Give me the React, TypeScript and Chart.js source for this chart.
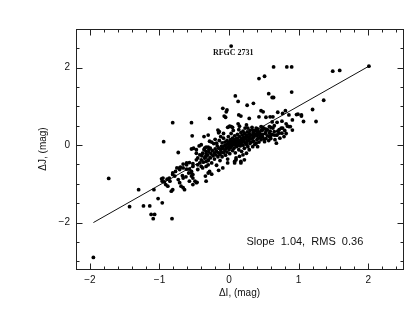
import React, { useEffect, useRef } from "react";
import { Chart, registerables } from "chart.js";

Chart.register(...registerables);

// ---- axis limits and tick values ----
const xLimits = [-2.2, 2.5];
const yLimits = [-3.2, 3.0];
const xMajorTicks = [-2, -1, 0, 1, 2];
const xMinorTicks = [-1.8, -1.6, -1.4, -1.2, -0.8, -0.6, -0.4, -0.2, 0.2, 0.4, 0.6, 0.8, 1.2, 1.4, 1.6, 1.8, 2.2, 2.4];
const yMajorTicks = [-2, 0, 2];
const yMinorTicks = [-3, -2.5, -1.5, -1, -0.5, 0.5, 1, 1.5, 2.5];

// ---- fitted line ----
const fitI = [-1.95, 2.01];
const fitJ = [-2.0, 2.04];

// ---- data (ΔI, ΔJ) ----
const sparsePoints: [number, number][] = [
  [-1.95, -2.9], [-1.73, -0.86], [-1.43, -1.59], [-1.3, -1.15], [-1.23, -1.57], [-1.14, -1.57],
  [-1.12, -1.79], [-1.07, -1.79], [-1.09, -1.9], [-1.08, -1.15], [-1.02, -1.38], [-0.96, -1.49],
  [-0.97, -0.87], [-0.94, 0.09], [-0.81, 0.58], [-0.82, -1.9], [-0.83, -1.19], [-0.73, -0.19],
  [-0.54, 0.58], [-0.53, 0.24], [-0.36, 0.22], [-0.3, 0.26], [-0.28, 0.69], [-0.09, 0.95],
  [-0.03, 0.91], [-0.04, 0.86], [-0.07, 0.75], [-0.05, 0.72], [0.03, 2.56], [0.09, 1.27],
  [0.13, 1.13], [0.26, 1.03], [0.35, 1.08], [0.43, 1.72], [0.51, 1.78], [0.64, 2.02],
  [0.83, 2.02], [0.9, 2.02], [0.57, 1.33], [0.62, 1.23], [0.64, 1.23], [0.9, 1.37],
  [1.49, 1.91], [1.59, 1.93], [2.01, 2.04], [1.36, 1.16], [1.2, 0.92], [1.25, 0.61],
  [1.07, 0.61], [0.97, 0.79], [1.04, 0.78], [0.68, 0.05],
];

const upperRightPoints: [number, number][] = [
  [0.46, 0.89], [0.49, 0.86], [0.7, 0.85], [0.81, 0.89], [0.91, 0.65], [0.86, 0.78], [0.69, 0.59],
  [0.76, 0.62], [0.59, 0.73], [0.63, 0.73], [0.53, 0.72], [0.43, 0.73], [0.29, 0.69], [0.17, 0.75],
  [0.14, 0.78], [0.15, 0.49], [0.0, 0.48], [0.05, 0.46], [-0.16, 0.39], [-0.14, 0.35], [0.75, 0.44],
  [0.86, 0.48], [0.88, 0.48], [0.84, 0.49], [0.69, 0.26], [0.76, 0.31], [0.53, 0.41], [0.58, 0.48],
  [0.6, 0.46], [0.46, 0.39], [0.48, 0.46], [0.4, 0.31], [0.42, 0.35], [0.43, 0.26], [0.46, 0.26],
  [0.34, 0.26], [0.29, 0.22], [0.24, 0.22], [0.19, 0.17], [0.53, 0.17], [0.58, 0.22], [0.6, 0.17],
  [0.65, 0.26], [0.68, 0.26], [0.72, 0.31], [0.53, 0.35], [0.58, 0.31], [0.6, 0.24], [0.65, 0.35],
  [0.46, 0.14], [0.48, 0.22], [0.51, 0.09], [0.39, 0.05], [0.41, -0.04], [0.34, -0.04], [0.29, -0.12],
  [0.25, -0.21], [0.2, -0.25], [0.15, -0.29], [0.1, -0.33], [0.08, -0.42], [0.17, -0.42], [0.77, 0.82],
  [0.99, 0.8], [1.04, 0.75], [0.77, 0.44], [0.13, 0.55], [0.25, 0.52], [0.27, 0.44], [0.34, 0.39],
  [0.39, 0.44], [0.46, 0.48], [0.48, 0.39], [-0.02, 0.46], [0.01, 0.49], [0.03, 0.48], [-0.15, 0.32],
  [0.91, 0.39], [0.8, 0.38], [0.72, 0.4], [0.65, 0.5], [0.82, 0.55], [0.62, 0.6],
];

const lowerBandPoints: [number, number][] = [
  [-0.54, -0.1], [-0.51, -0.08], [-0.4, 0.01], [-0.47, -0.21], [-0.42, -0.25], [-0.38, -0.21],
  [-0.33, -0.22], [-0.47, -0.38], [-0.45, -0.33], [-0.57, -0.45], [-0.52, -0.48], [-0.61, -0.51],
  [-0.66, -0.59], [-0.71, -0.63], [-0.75, -0.59], [-0.81, -0.76], [-0.78, -0.8], [-0.86, -0.85],
  [-0.85, -0.93], [-0.95, -0.85], [-0.96, -0.93], [-0.67, -0.79], [-0.66, -0.85], [-0.62, -0.82],
  [-0.58, -0.72], [-0.54, -0.68], [-0.52, -0.76], [-0.49, -0.93], [-0.52, -1.02], [-0.47, -0.97],
  [-0.57, -0.93], [-0.71, -0.97], [-0.66, -1.1], [-0.64, -1.15], [-0.69, -1.06], [-0.81, -1.15],
  [-0.45, -0.51], [-0.42, -0.46], [-0.4, -0.55], [-0.38, -0.59], [-0.33, -0.55], [-0.3, -0.51],
  [-0.4, -0.38], [-0.35, -0.33], [-0.3, -0.38], [-0.33, -0.42], [-0.47, -0.12], [-0.43, -0.02],
  [-0.35, -0.08], [-0.3, -0.05], [-0.33, -0.16], [-0.29, -0.12], [-0.61, -0.62], [-0.57, -0.62],
  [-0.77, -0.68], [-0.81, -0.72], [-0.54, -0.8], [-0.52, -0.85], [-0.73, -0.89], [-0.91, -1.02],
  [-0.88, -1.06], [-0.66, -0.49], [-0.7, -0.57], [-0.89, -0.88], [-0.93, -0.95], [-0.45, -0.63],
  [-0.3, -0.72], [-0.28, -0.68], [-0.33, -0.93], [-0.09, -0.59], [-0.02, -0.46], [0.08, -0.46],
  [0.1, -0.38], [0.17, -0.46], [0.22, -0.38], [-0.46, -0.96], [-0.34, -0.8], [-0.25, -0.75],
  [-0.15, -0.65], [-0.54, -0.72], [-0.52, -0.55], [-0.71, -0.59], [-0.61, -0.46],
];

const centralPoints: [number, number][] = [
  [-0.39, -0.28], [-0.37, -0.44], [-0.36, -0.12], [-0.34, -0.3], [-0.33, -0.05], [-0.31, -0.26],
  [-0.3, -0.4], [-0.29, -0.18], [-0.27, -0.33], [-0.27, -0.08], [-0.26, -0.22], [-0.25, -0.46],
  [-0.24, -0.14], [-0.23, -0.28], [-0.22, 0.04], [-0.21, -0.2], [-0.21, -0.36], [-0.2, -0.1],
  [-0.19, -0.25], [-0.18, -0.52], [-0.18, -0.16], [-0.17, -0.02], [-0.16, -0.3], [-0.15, -0.2],
  [-0.15, -0.08], [-0.14, 0.12], [-0.13, -0.24], [-0.13, -0.4], [-0.12, -0.12], [-0.11, -0.03],
  [-0.11, -0.18], [-0.1, 0.06], [-0.1, -0.3], [-0.09, -0.08], [-0.08, -0.2], [-0.08, 0.18],
  [-0.07, -0.02], [-0.06, -0.14], [-0.06, 0.08], [-0.05, -0.26], [-0.05, 0.0], [-0.04, -0.08],
  [-0.03, 0.12], [-0.03, -0.18], [-0.02, 0.04], [-0.02, -0.36], [-0.01, -0.04], [-0.01, 0.22],
  [0.0, 0.08], [0.0, -0.12], [0.01, 0.02], [0.01, -0.22], [0.02, 0.14], [0.02, -0.06],
  [0.03, 0.3], [0.03, 0.05], [0.04, -0.02], [0.04, 0.1], [0.05, -0.14], [0.05, 0.18],
  [0.06, 0.02], [0.06, 0.38], [0.07, 0.08], [0.07, -0.08], [0.08, 0.14], [0.08, 0.24],
  [0.09, 0.0], [0.09, -0.2], [0.1, 0.1], [0.1, 0.05], [0.11, 0.18], [0.11, -0.04],
  [0.12, 0.28], [0.12, 0.08], [0.13, 0.0], [0.13, 0.14], [0.14, 0.4], [0.14, -0.12],
  [0.15, 0.06], [0.15, 0.22], [0.16, 0.12], [0.16, -0.02], [0.17, 0.32], [0.17, 0.04],
  [0.18, 0.16], [0.18, -0.16], [0.19, 0.08], [0.19, 0.26], [0.2, 0.0], [0.2, 0.36],
  [0.21, 0.12], [0.21, 0.2], [0.22, -0.08], [0.22, 0.3], [0.23, 0.06], [0.23, 0.44],
  [0.24, 0.16], [0.25, 0.02], [0.25, 0.26], [0.26, 0.1], [0.26, 0.34], [0.27, -0.04],
  [0.28, 0.2], [0.28, 0.12], [0.29, 0.3], [0.3, 0.04], [0.3, 0.38], [0.31, 0.16],
  [0.32, 0.26], [0.32, 0.08], [0.33, 0.46], [0.34, 0.18], [0.35, 0.1], [0.35, 0.32],
  [0.36, 0.22], [0.37, 0.02], [0.38, 0.28], [0.38, 0.38], [0.4, 0.14], [0.4, 0.24],
  [0.41, 0.42], [0.42, 0.18], [0.43, 0.08], [0.44, 0.32], [0.45, 0.2], [0.47, 0.38],
  [0.48, 0.28], [0.5, 0.16], [0.5, 0.44], [0.52, 0.3], [0.55, 0.24], [0.55, 0.4],
  [0.57, 0.12], [0.59, 0.36], [0.62, 0.28], [0.63, 0.44], [0.66, 0.14], [0.7, 0.36],
  [0.73, 0.18], [0.79, 0.22], [0.82, 0.3], [-0.25, 0.08], [-0.2, 0.15], [-0.12, 0.22],
  [-0.08, 0.3], [-0.18, 0.05], [-0.28, 0.1],
];

// ---- text annotations (anchored in data coordinates) ----
const annotationTexts = ["RFGC 2731", "Slope  1.04,  RMS  0.36"];
const annotationI = [0.06, 0.25];
const annotationJ = [2.37, -2.5];

const xTitle = "ΔI, (mag)";
const yTitle = "ΔJ, (mag)";

const fmt = (v: number) => (v < 0 ? "\u2212" + Math.abs(v) : String(v));

const framePlugin = {
  id: "frameTicks",
  afterDraw(chart: any) {
    const { ctx, chartArea: a, scales } = chart;
    const xs = scales.x;
    const ys = scales.y;
    ctx.save();
    ctx.strokeStyle = "#222";
    ctx.lineWidth = 1;
    const L = Math.round(a.left) + 0.5;
    const R = Math.round(a.right) + 0.5;
    const T = Math.round(a.top) + 0.5;
    const B = Math.round(a.bottom) + 0.5;
    ctx.strokeRect(L, T, R - L, B - T);
    ctx.beginPath();
    const xt = (v: number, len: number) => {
      const p = Math.round(xs.getPixelForValue(v)) + 0.5;
      ctx.moveTo(p, B); ctx.lineTo(p, B - len);
      ctx.moveTo(p, T); ctx.lineTo(p, T + len);
    };
    const yt = (v: number, len: number) => {
      const p = Math.round(ys.getPixelForValue(v)) + 0.5;
      ctx.moveTo(L, p); ctx.lineTo(L + len, p);
      ctx.moveTo(R, p); ctx.lineTo(R - len, p);
    };
    xMajorTicks.forEach((v) => xt(v, 6));
    xMinorTicks.forEach((v) => xt(v, 3));
    yMajorTicks.forEach((v) => yt(v, 6));
    yMinorTicks.forEach((v) => yt(v, 3));
    ctx.stroke();

    ctx.fillStyle = "#111";
    ctx.textBaseline = "middle";
    ctx.font = "bold 8px 'Liberation Serif', serif";
    ctx.textAlign = "center";
    ctx.fillText(annotationTexts[0], xs.getPixelForValue(annotationI[0]), ys.getPixelForValue(annotationJ[0]));
    ctx.font = "11px 'Liberation Sans', Arial, sans-serif";
    ctx.textAlign = "left";
    ctx.fillText(annotationTexts[1], xs.getPixelForValue(annotationI[1]), ys.getPixelForValue(annotationJ[1]));
    ctx.restore();
  },
};

export default function App() {
  const canvasRef = useRef<HTMLCanvasElement | null>(null);

  useEffect(() => {
    if (!canvasRef.current) return;
    const allPoints = [...sparsePoints, ...upperRightPoints, ...lowerBandPoints, ...centralPoints];
    const tickFont = { family: "'Liberation Sans', Arial, sans-serif", size: 10 };
    const chart = new Chart(canvasRef.current, {
      type: "scatter",
      data: {
        datasets: [
          {
            type: "scatter",
            data: allPoints.map(([x, y]) => ({ x, y })),
            pointRadius: 1.9,
            pointBackgroundColor: "#000",
            pointBorderWidth: 0,
            pointHoverRadius: 1.9,
          },
          {
            type: "line",
            data: fitI.map((x, i) => ({ x, y: fitJ[i] })),
            borderColor: "#111",
            borderWidth: 1,
            pointRadius: 0,
            showLine: true,
            fill: false,
          } as any,
        ],
      },
      options: {
        animation: false,
        responsive: false,
        devicePixelRatio: 1,
        events: [],
        layout: { padding: { top: 29, right: 13, left: 0, bottom: 0 } },
        plugins: { legend: { display: false }, tooltip: { enabled: false } },
        scales: {
          x: {
            type: "linear",
            position: "bottom",
            min: xLimits[0],
            max: xLimits[1],
            grid: { display: false, drawTicks: false },
            border: { display: false },
            ticks: { font: tickFont, color: "#111", padding: 5, maxRotation: 0, callback: (v: any) => fmt(Number(v)) },
            afterBuildTicks: (s: any) => { s.ticks = xMajorTicks.map((v) => ({ value: v })); },
            afterFit: (s: any) => { s.height = 53; },
            title: { display: true, text: xTitle, color: "#111", font: { family: "'Liberation Sans', Arial, sans-serif", size: 10 }, padding: { top: 0, bottom: 23 } },
          },
          y: {
            type: "linear",
            position: "left",
            min: yLimits[0],
            max: yLimits[1],
            grid: { display: false, drawTicks: false },
            border: { display: false },
            ticks: { font: tickFont, color: "#111", padding: 6, callback: (v: any) => fmt(Number(v)) },
            afterBuildTicks: (s: any) => { s.ticks = yMajorTicks.map((v) => ({ value: v })); },
            afterFit: (s: any) => { s.width = 76; },
            title: { display: true, text: yTitle, color: "#111", font: { family: "'Liberation Sans', Arial, sans-serif", size: 10 }, padding: { top: 37, bottom: 0 } },
          },
        },
      },
      plugins: [framePlugin],
    });
    return () => chart.destroy();
  }, []);

  return (
    <div style={{ position: "absolute", left: 0, top: 0, width: 416, height: 322, background: "#fff" }}>
      <canvas ref={canvasRef} width={416} height={322} style={{ display: "block" }} />
    </div>
  );
}
